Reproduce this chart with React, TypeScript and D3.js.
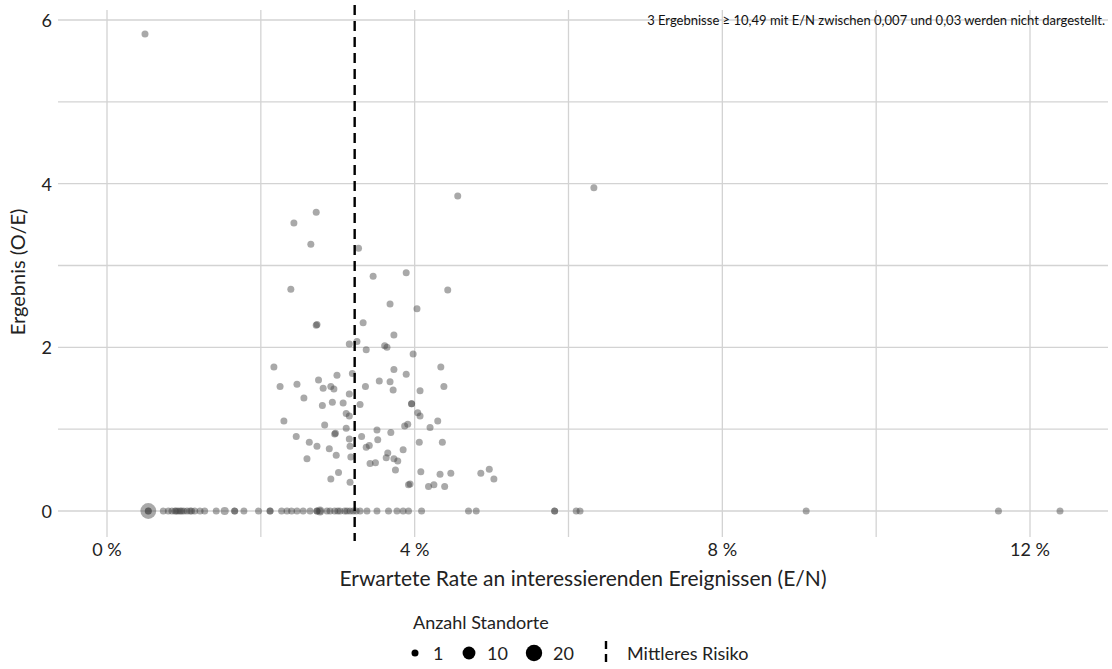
import React from "react";
import * as d3 from "d3";

// Points with O/E > 0: [E/N, O/E]
const scatterPoints: [number, number][] = [
  [0.00494, 5.83], [0.0633, 3.95], [0.0456, 3.85], [0.0272, 3.65], [0.0243, 3.52],
  [0.0265, 3.26], [0.0327, 3.21], [0.0239, 2.71], [0.0272, 2.27], [0.0273, 2.28],
  [0.0333, 2.30], [0.0315, 2.04], [0.0325, 2.07], [0.0337, 1.97], [0.0346, 2.87],
  [0.0389, 2.91], [0.0443, 2.70], [0.0368, 2.53], [0.0403, 2.47], [0.0373, 2.15],
  [0.0361, 2.02], [0.0364, 2.00], [0.0398, 1.92], [0.0217, 1.76], [0.0299, 1.66],
  [0.0319, 1.68], [0.0275, 1.60], [0.0225, 1.52], [0.0247, 1.55], [0.0281, 1.50],
  [0.0291, 1.52], [0.0295, 1.49], [0.0336, 1.52], [0.0256, 1.38], [0.0315, 1.43],
  [0.0280, 1.29], [0.0293, 1.33], [0.0307, 1.32], [0.0329, 1.30], [0.0311, 1.19],
  [0.0315, 1.16], [0.0230, 1.10], [0.0283, 1.05], [0.0311, 1.01], [0.0296, 0.94],
  [0.0297, 0.95], [0.0246, 0.91], [0.0263, 0.84], [0.0273, 0.79], [0.0289, 0.76],
  [0.0315, 0.88], [0.0331, 0.91], [0.0316, 0.79], [0.0337, 0.78], [0.0341, 0.80],
  [0.0298, 0.68], [0.0317, 0.66], [0.0260, 0.64], [0.0342, 0.58], [0.0301, 0.47],
  [0.0291, 0.39], [0.0316, 0.35], [0.0373, 1.73], [0.0389, 1.67], [0.0354, 1.59],
  [0.0368, 1.58], [0.0372, 1.48], [0.0407, 1.47], [0.0434, 1.76], [0.0438, 1.52],
  [0.0396, 1.31], [0.0396, 1.31], [0.0404, 1.20], [0.0407, 1.16], [0.0430, 1.10],
  [0.0387, 1.04], [0.0391, 1.06], [0.0420, 1.02], [0.0351, 0.99], [0.0369, 0.96],
  [0.0352, 0.87], [0.0406, 0.84], [0.0436, 0.84], [0.0385, 0.75], [0.0365, 0.71],
  [0.0363, 0.65], [0.0373, 0.64], [0.0378, 0.61], [0.0349, 0.59], [0.0375, 0.50],
  [0.0408, 0.48], [0.0433, 0.45], [0.0447, 0.46], [0.0486, 0.46], [0.0497, 0.51],
  [0.0503, 0.39], [0.0392, 0.32], [0.0394, 0.33], [0.0418, 0.30], [0.0425, 0.32],
  [0.0439, 0.30],
];

// Points with O/E = 0: E/N values
const zeroEN: number[] = [
  0.00537, 0.00537, 0.00537, 0.00732, 0.00797, 0.00845, 0.00884, 0.0090, 0.00923,
  0.0095, 0.00971, 0.0100, 0.0104, 0.0108, 0.0110, 0.0114, 0.0121, 0.0127, 0.0142,
  0.0153, 0.0166, 0.0166, 0.0178, 0.0197, 0.0212, 0.0212, 0.0227, 0.0234, 0.0240,
  0.0247, 0.0255, 0.0264, 0.0273, 0.0273, 0.0277, 0.0277, 0.0286, 0.0290, 0.0296,
  0.0300, 0.0303, 0.0309, 0.0312, 0.0316, 0.0320, 0.0324, 0.0329, 0.0338, 0.0351,
  0.0366, 0.0377, 0.0385, 0.0392, 0.0409, 0.0470, 0.0480, 0.0582, 0.0582, 0.0610,
  0.0615, 0.0909, 0.1159, 0.1239,
];
// Number of sites per zero point (same order as zeroEN)
const zeroCount: number[] = [
  18, 1, 1, 1, 1, 1, 1, 1, 1,
  1, 1, 1, 1, 1, 1, 1, 1, 1, 1,
  2, 1, 1, 1, 1, 1, 1, 1, 1, 1,
  1, 1, 1, 1, 1, 3, 1, 1, 1, 1,
  1, 1, 1, 1, 1, 1, 1, 1, 1, 1,
  1, 1, 1, 1, 1, 1, 1, 1, 1, 1,
  1, 1, 1, 1,
];

const meanRisk = 0.0322;
const xTickValues = [0, 0.04, 0.08, 0.12];
const xGridValues = [0, 0.02, 0.04, 0.06, 0.08, 0.1, 0.12];
const yTickValues = [0, 2, 4, 6];
const yGridValues = [0, 1, 2, 3, 4, 5, 6];
const legendCounts = [1, 10, 20];

const FONT = "Lato, 'Open Sans', sans-serif";

export default function App() {
  const W = 1112, H = 669;
  const x = d3.scaleLinear().domain([0, 0.12]).range([107, 1030]);
  const y = d3.scaleLinear().domain([0, 6]).range([511, 20]);
  const r = d3.scaleSqrt().domain([1, 20]).range([3.5, 8.2]);
  const pctFmt = (v: number) => `${Math.round(v * 100)} %`;

  const plotLeft = 58, plotRight = 1108, plotTop = 10, plotBottom = 537;
  const pointFill = "#404040";
  const pointOpacity = 0.45;

  const legendX = [415, 469, 534];
  const legendTextX = [433, 487, 553];

  return (
    <svg width={W} height={H} style={{ position: "absolute", left: 0, top: 0, background: "#fff" }}>
      {/* grid */}
      <g stroke="#d3d3d3" strokeWidth={1.3}>
        {yGridValues.map((v) => (
          <line key={"hy" + v} x1={plotLeft} x2={plotRight} y1={y(v)} y2={y(v)} />
        ))}
        {xGridValues.map((v) => (
          <line key={"vx" + v} x1={x(v)} x2={x(v)} y1={plotTop} y2={plotBottom} />
        ))}
      </g>

      {/* zero points */}
      <g>
        {zeroEN.map((v, i) => (
          <circle key={"z" + i} cx={x(v)} cy={y(0)} r={r(zeroCount[i])} fill={pointFill} fillOpacity={pointOpacity} />
        ))}
      </g>
      {/* other points */}
      <g>
        {scatterPoints.map(([en, oe], i) => (
          <circle key={"p" + i} cx={x(en)} cy={y(oe)} r={r(1)} fill={pointFill} fillOpacity={pointOpacity} />
        ))}
      </g>

      {/* mean risk line */}
      <line x1={x(meanRisk)} x2={x(meanRisk)} y1={5} y2={541} stroke="#000" strokeWidth={2.4} strokeDasharray="10 6" />

      {/* ticks */}
      <g fontFamily={FONT} fontSize={18} fill="#222">
        {yTickValues.map((v) => (
          <text key={"yt" + v} x={52} y={y(v)} textAnchor="end" dominantBaseline="central">{v}</text>
        ))}
        {xTickValues.map((v) => (
          <text key={"xt" + v} x={x(v)} y={556} textAnchor="middle">{pctFmt(v)}</text>
        ))}
      </g>

      {/* axis titles */}
      <text x={583} y={586} textAnchor="middle" fontFamily={FONT} fontSize={21} fill="#222">
        Erwartete Rate an interessierenden Ereignissen (E/N)
      </text>
      <text transform="translate(25,272) rotate(-90)" textAnchor="middle" fontFamily={FONT} fontSize={20} fill="#222">
        Ergebnis (O/E)
      </text>

      {/* annotation */}
      <text x={1105} y={25} textAnchor="end" fontFamily={FONT} fontSize={13} fill="#111">
        3 Ergebnisse ≥ 10,49 mit E/N zwischen 0,007 und 0,03 werden nicht dargestellt.
      </text>

      {/* legend */}
      <g fontFamily={FONT} fontSize={18} fill="#222">
        <text x={413} y={629}>Anzahl Standorte</text>
        {legendCounts.map((c, i) => (
          <g key={"lg" + c}>
            <circle cx={legendX[i]} cy={653} r={r(c)} fill="#000" />
            <text x={legendTextX[i]} y={653} dominantBaseline="central">{c}</text>
          </g>
        ))}
        <line x1={606} x2={606} y1={641} y2={664} stroke="#000" strokeWidth={2.4} strokeDasharray="8 5" />
        <text x={627} y={653} dominantBaseline="central">Mittleres Risiko</text>
      </g>
    </svg>
  );
}
